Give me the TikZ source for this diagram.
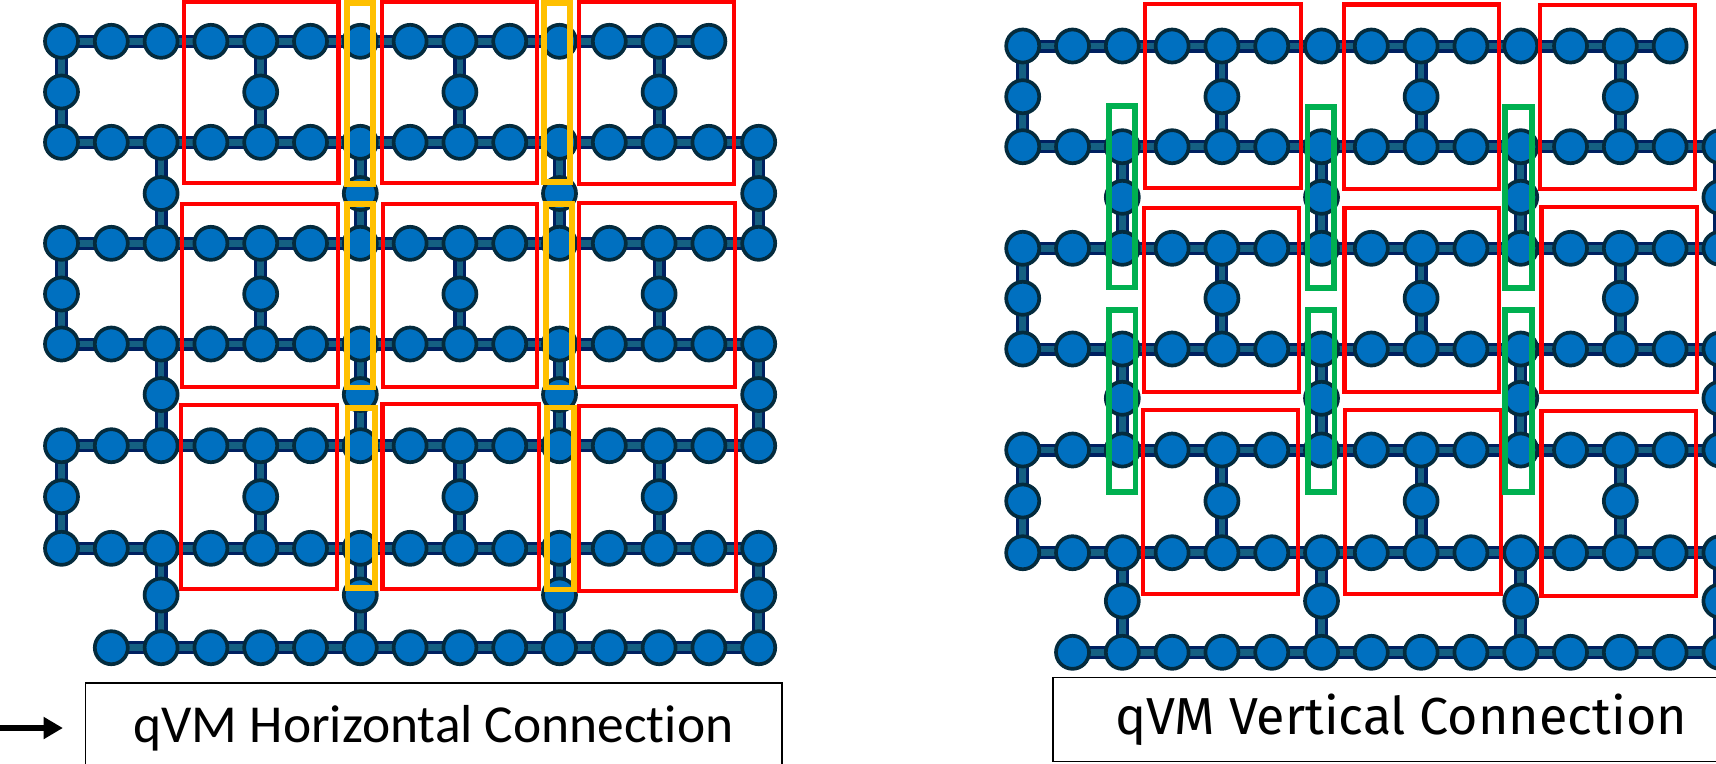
\documentclass[tikz,border=0pt]{standalone}
\usepackage{fontspec}
\usetikzlibrary{arrows.meta,backgrounds}
\newfontfamily\hfont[Ligatures=NoCommon]{Carlito}
\newfontfamily\vfont{Fira Sans}
\definecolor{qfill}{HTML}{0070C0}
\definecolor{qline}{HTML}{042B3D}
\definecolor{linkout}{HTML}{002060}
\definecolor{linkin}{HTML}{156082}
\definecolor{boxyellow}{HTML}{FFC000}
\definecolor{boxgreen}{HTML}{00B050}
\tikzset{
  qubit/.style={circle, draw=qline, fill=qfill, line width=1.05pt, minimum size=.33cm, inner sep=0pt},
  link/.style={line width=.9pt, draw=linkout, double=linkin, double distance=1.9pt, shorten >=-1pt, shorten <=-1pt},
  redbox/.style={draw=red, line width=1.2pt},
  yellowbox/.style={draw=boxyellow, line width=1.6pt},
  greenbox/.style={draw=boxgreen, line width=1.6pt},
  labelbox/.style={draw=black, line width=.4pt, minimum width=6.96cm, inner sep=0pt}
}
% #1 name prefix, #2 left column, #3 row list
\newcommand{\latticegrid}[3]{
  \foreach \row/\ypos/\first/\second/\last in {#3}
    \foreach \col in {\first,\second,...,\last}
      \node[qubit] (#1\row-\col) at ({#2+49.8*\col},\ypos) {};
  \begin{pgfonlayer}{background}
    \foreach \row/\first/\last in {0/0/12, 2/0/13, 4/0/13, 6/0/13, 8/0/13, 10/0/13, 12/1/13}
      \foreach \col in {\first,...,\last} {
        \pgfmathtruncatemacro{\nextcol}{\col+1}
        \draw[link] (#1\row-\col) -- (#1\row-\nextcol);
      }
    \foreach \row/\first in {1/0, 3/2, 5/0, 7/2, 9/0, 11/2} {
      \pgfmathtruncatemacro{\uprow}{\row-1}
      \pgfmathtruncatemacro{\downrow}{\row+1}
      \pgfmathtruncatemacro{\second}{\first+4}
      \pgfmathtruncatemacro{\last}{\first+12}
      \foreach \col in {\first,\second,...,\last} {
        \draw[link] (#1\uprow-\col) -- (#1\row-\col);
        \draw[link] (#1\row-\col) -- (#1\downrow-\col);
      }
    }
  \end{pgfonlayer}
}

\begin{document}
\begin{tikzpicture}[x=.01cm, y=-.01cm]
  \path[use as bounding box, clip] (0,0) rectangle (1716,763);

  % left lattice
  \latticegrid{L}{61.5}{0/41.3/0/1/13, 1/92/0/4/12, 2/142.3/0/1/14, 3/193.5/2/6/14,
    4/243.3/0/1/14, 5/294/0/4/12, 6/344/0/1/14, 7/394.5/2/6/14, 8/445.7/0/1/14,
    9/496.7/0/4/12, 10/548.3/0/1/14, 11/595/2/6/14, 12/647.7/1/2/14}
  % right lattice
  \latticegrid{R}{1022.7}{0/46/0/1/13, 1/96.7/0/4/12, 2/146.7/0/1/14, 3/197.3/2/6/14,
    4/248.3/0/1/14, 5/298.3/0/4/12, 6/349/0/1/14, 7/398.3/2/6/14, 8/450/0/1/14,
    9/501/0/4/12, 10/552.7/0/1/14, 11/601/2/6/14, 12/652.3/1/2/14}

  \foreach \xa/\ya/\xb/\yb in {183.7/1.5/338.5/183.3, 382/1.5/536.7/183.3, 579/1.5/734/184.3,
      182.3/204/337.7/387.3, 382.7/204/536.7/387.3, 579.3/202.7/735.3/386.7,
      181/405/336.7/589.3, 382.6/404/539.3/589.3, 579/406/735.7/590.7,
      1145/4.3/1300.7/188.3, 1344/4.5/1499/189, 1540/5/1695.3/189.3,
      1143.7/208.3/1299.3/392.3, 1344.5/208.3/1499.3/392.3, 1541.5/207.3/1696.7/391.7,
      1143.3/410/1298.3/594, 1345/410/1500.7/594, 1541.5/410.7/1696/595.7}
    \draw[redbox] (\xa,\ya) rectangle (\xb,\yb);

  \foreach \xa/\ya/\xb/\yb in {346.7/3/373.3/183.7, 346.7/204/373.3/387.5, 347.5/408/375/588,
      543.7/3/570.3/182.3, 545.7/204.3/572.3/387.3, 546.7/407.3/574/589.3}
    \draw[yellowbox] (\xa,\ya) rectangle (\xb,\yb);

  \foreach \xa/\ya/\xb/\yb in {1108.7/106/1135/287.5, 1307.5/106.7/1334/288.3, 1505/106.7/1531.7/288.3,
      1108.7/310/1135.3/491.7, 1307.7/310/1334.3/491.7, 1505/310/1531.7/491.7}
    \draw[greenbox] (\xa,\ya) rectangle (\xb,\yb);

  \node[labelbox, minimum height=.9cm] (hconn) at (433.6,728) {\hfont\fontsize{15.2}{15.2}\selectfont qVM Horizontal Connection};
  \node[labelbox, minimum height=.844cm] (vconn) at (1401,719.5) {\vfont\fontsize{14.8}{14.8}\selectfont qVM Vertical Connection};

  \coordinate (arrowin) at (0,728);
  \draw[-{Triangle[length=5.5pt,width=6pt]}, line width=1.6pt, shorten >=6.2pt] (arrowin) -- (hconn.west);
\end{tikzpicture}
\end{document}
